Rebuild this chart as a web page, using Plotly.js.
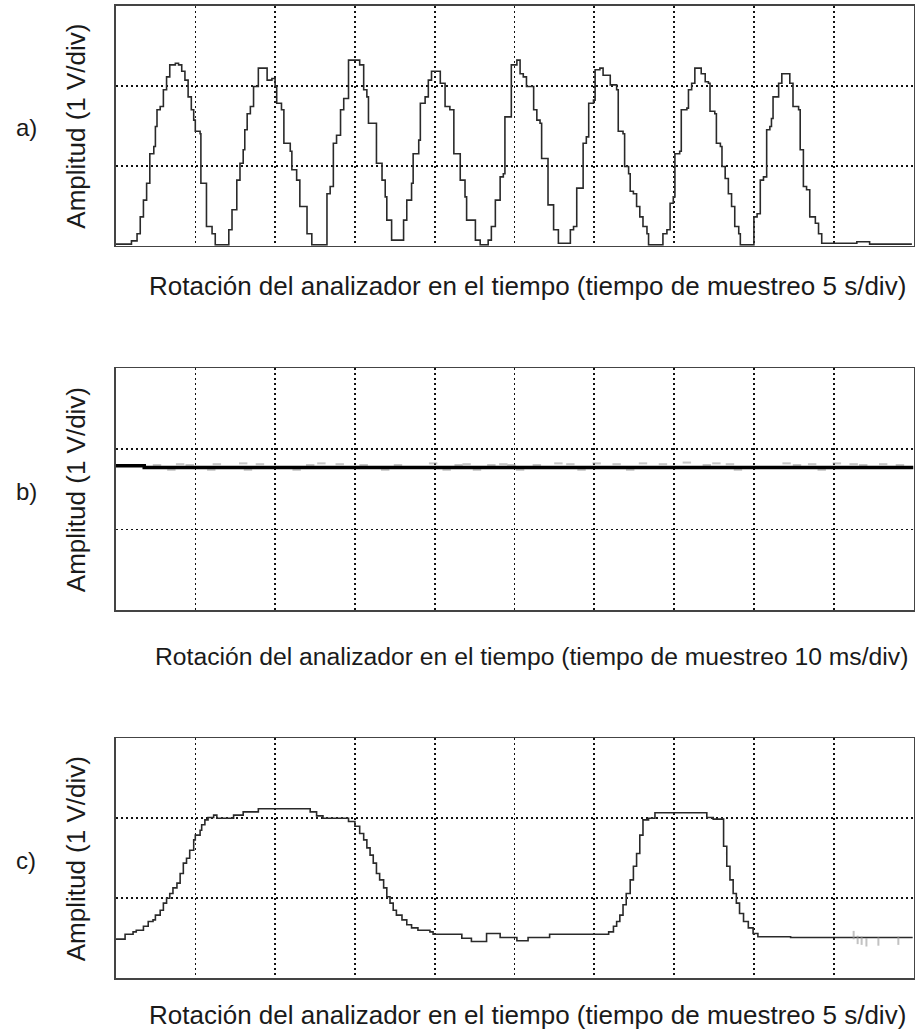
<!DOCTYPE html>
<html>
<head>
<meta charset="utf-8">
<script src="https://cdn.plot.ly/plotly-3.0.1.min.js"></script>
<style>html,body{margin:0;padding:0;background:#fff;}#chart{width:916px;height:1031px;}</style>
</head>
<body>
<div id="chart"></div>
<script>
// Panel a: staircase waveform (x in divisions of 5 s, y in divisions of 1 V)
const aX = [0.00,0.20,0.27,0.31,0.35,0.39,0.43,0.48,0.50,0.52,0.56,0.60,0.64,0.68,0.75,0.79,0.83,0.87,0.91,0.95,0.98,1.00,1.06,1.07,1.12,1.14,1.21,1.25,1.35,1.42,1.46,1.52,1.56,1.60,1.62,1.65,1.69,1.73,1.79,1.85,1.90,1.96,2.00,2.02,2.08,2.11,2.19,2.21,2.27,2.31,2.35,2.40,2.46,2.56,2.65,2.69,2.73,2.77,2.82,2.86,2.92,3.02,3.06,3.11,3.15,3.17,3.25,3.27,3.34,3.38,3.40,3.46,3.55,3.61,3.65,3.71,3.73,3.80,3.82,3.88,3.92,3.96,4.05,4.07,4.11,4.13,4.19,4.24,4.30,4.32,4.38,4.40,4.46,4.51,4.57,4.67,4.71,4.76,4.82,4.86,4.88,4.92,4.96,5.03,5.07,5.11,5.15,5.21,5.24,5.28,5.32,5.34,5.40,5.42,5.47,5.49,5.55,5.67,5.70,5.74,5.78,5.84,5.86,5.90,5.93,5.99,6.01,6.07,6.11,6.15,6.20,6.28,6.30,6.36,6.38,6.43,6.45,6.49,6.53,6.57,6.61,6.66,6.68,6.82,6.86,6.91,6.95,6.99,7.01,7.07,7.09,7.16,7.18,7.22,7.26,7.32,7.34,7.39,7.43,7.45,7.51,7.53,7.58,7.60,7.64,7.68,7.72,7.76,7.81,7.83,7.95,8.00,8.04,8.08,8.12,8.16,8.20,8.22,8.24,8.29,8.31,8.35,8.39,8.45,8.49,8.56,8.58,8.62,8.66,8.70,8.77,8.81,8.85,9.25,9.29,9.41,9.45,9.98];
const aY = [0.02,0.06,0.15,0.36,0.57,0.78,1.15,1.24,1.49,1.70,1.74,1.95,2.11,2.26,2.28,2.26,2.18,2.07,1.86,1.70,1.57,1.43,1.40,0.78,0.78,0.24,0.15,0.01,0.01,0.20,0.45,0.82,1.03,1.20,1.45,1.65,1.74,1.99,2.22,2.22,2.07,2.09,1.99,1.78,1.70,1.28,1.18,0.95,0.82,0.49,0.49,0.15,0.01,0.01,0.65,0.74,1.28,1.38,1.70,1.84,2.32,2.32,2.26,1.95,1.86,1.53,1.53,1.03,0.82,0.61,0.32,0.07,0.07,0.32,0.57,0.78,1.15,1.32,1.78,1.86,2.07,2.18,2.18,2.03,2.03,1.74,1.70,1.15,1.15,0.82,0.61,0.32,0.32,0.07,0.01,0.07,0.24,0.57,0.86,0.90,1.61,1.61,2.26,2.32,2.15,2.11,1.99,1.99,1.70,1.57,1.53,1.09,1.09,0.51,0.51,0.20,0.03,0.03,0.20,0.24,0.72,0.72,1.28,1.36,1.78,1.82,2.20,2.22,2.13,2.13,2.01,1.95,1.43,1.40,0.99,0.90,0.68,0.65,0.49,0.36,0.24,0.15,0.01,0.01,0.15,0.20,0.53,0.61,1.15,1.18,1.70,1.72,1.95,2.03,2.22,2.22,2.15,2.05,2.03,1.68,1.65,1.28,1.24,0.99,0.84,0.65,0.49,0.24,0.15,0.01,0.01,0.36,0.40,0.82,0.86,1.45,1.49,1.59,1.86,1.86,2.03,2.15,2.15,2.03,1.74,1.70,1.20,0.74,0.70,0.36,0.28,0.15,0.03,0.03,0.05,0.05,0.02,0.02];

// Panel b: nearly constant signal (x in divisions of 10 ms)
const bX = [0.00,0.35,0.36,10.0];
const bY = [1.79,1.79,1.77,1.77];
// Panel b: faint noise specks around the trace
const bNoiseX = [0.52,0.70,0.81,0.93,1.20,1.27,1.60,1.66,1.81,2.27,2.44,2.58,2.81,3.11,3.38,3.54,3.98,4.15,4.30,4.40,4.53,4.71,4.86,4.96,5.07,5.28,5.55,5.70,5.84,6.03,6.28,6.45,6.61,6.86,7.16,7.41,7.53,7.70,7.80,8.41,8.54,8.73,8.85,9.04,9.25,9.37,9.62,9.83];
const bNoiseY = [1.80,1.74,1.81,1.80,1.74,1.81,1.82,1.74,1.81,1.74,1.80,1.82,1.81,1.80,1.74,1.80,1.82,1.74,1.80,1.81,1.74,1.80,1.81,1.80,1.74,1.80,1.82,1.81,1.74,1.82,1.81,1.74,1.82,1.81,1.83,1.80,1.82,1.81,1.74,1.82,1.80,1.81,1.74,1.82,1.81,1.80,1.81,1.80];

// Panel c: staircase waveform (x in divisions of 5 s)
const cX = [0.00,0.12,0.22,0.26,0.35,0.41,0.47,0.50,0.56,0.60,0.64,0.68,0.72,0.77,0.81,0.85,0.89,0.93,0.98,1.00,1.06,1.08,1.12,1.16,1.23,1.27,1.39,1.48,1.60,1.79,2.40,2.44,2.52,2.60,2.85,2.92,3.00,3.06,3.11,3.15,3.19,3.23,3.27,3.31,3.36,3.40,3.44,3.48,3.52,3.59,3.65,3.71,3.79,3.94,3.98,4.32,4.34,4.44,4.46,4.61,4.65,4.80,4.82,5.03,5.17,5.44,6.16,6.18,6.24,6.28,6.32,6.36,6.40,6.45,6.49,6.53,6.57,6.61,6.68,6.76,7.37,7.41,7.49,7.60,7.62,7.66,7.70,7.74,7.78,7.82,7.87,7.93,7.99,8.05,8.46,9.99];
const cY = [0.49,0.55,0.58,0.60,0.65,0.71,0.73,0.79,0.85,0.94,1.00,1.06,1.13,1.19,1.31,1.44,1.50,1.60,1.73,1.79,1.85,1.92,1.98,2.01,2.04,2.00,2.00,2.04,2.08,2.12,2.12,2.08,2.03,2.00,2.00,1.96,1.90,1.81,1.73,1.63,1.54,1.44,1.31,1.23,1.13,1.02,0.94,0.85,0.79,0.73,0.67,0.63,0.60,0.58,0.55,0.55,0.50,0.50,0.46,0.46,0.56,0.56,0.51,0.47,0.51,0.55,0.55,0.58,0.65,0.71,0.79,0.92,1.06,1.23,1.40,1.56,1.79,1.98,2.00,2.07,2.07,2.01,1.99,1.99,1.65,1.40,1.23,1.06,0.94,0.81,0.71,0.63,0.56,0.52,0.51,0.51];
// Panel c: faint noise specks near the end
const cNoiseX = [9.25,9.30,9.35,9.41,9.56,9.81];
const cNoiseY = [0.54,0.48,0.47,0.45,0.46,0.47];

const xTitles = [
  "Rotación del analizador en el tiempo (tiempo de muestreo 5 s/div)",
  "Rotación del analizador en el tiempo (tiempo de muestreo 10 ms/div)",
  "Rotación del analizador en el tiempo (tiempo de muestreo 5 s/div)"
];
const yTitle = "Amplitud (1 V/div)";
const panelLabels = ["a)", "b)", "c)"];

const W = 916, H = 1031;
const FONT = "Liberation Sans, Arial, sans-serif";
// pixel boxes: [left, right, top, bottom]
const boxes = [[115.5, 913.5, 5.7, 245.7], [115.5, 913.5, 368.3, 610], [115.5, 913.5, 738.3, 978.3]];
const xTitleY = [286, 656, 1015];
const xTitleX = [527, 531, 527];
const xTitleSize = [26, 24.7, 26];

function ax(box, horizontal, anchor) {
  const d = horizontal ? [box[0] / W, box[1] / W] : [1 - box[3] / H, 1 - box[2] / H];
  return {
    domain: d, anchor: anchor,
    range: horizontal ? [0, 10] : [0, 3],
    dtick: 1, tick0: 0,
    showticklabels: false, ticks: '',
    showgrid: true, gridcolor: '#111', gridwidth: 1.6, griddash: '2px,3px',
    zeroline: false,
    showline: true, mirror: true, linecolor: '#444', linewidth: 1.6,
    fixedrange: true
  };
}

const lineStyle = {color: '#2a2a2a', width: 1.6, shape: 'hv'};
const traces = [
  {x: aX, y: aY, xaxis: 'x', yaxis: 'y', mode: 'lines', line: lineStyle, hoverinfo: 'skip'},
  {x: bNoiseX, y: bNoiseY, xaxis: 'x2', yaxis: 'y2', mode: 'markers',
    marker: {symbol: 'line-ew', size: 6, line: {color: '#9a9a9a', width: 2}}, opacity: 0.55, hoverinfo: 'skip'},
  {x: bX, y: bY, xaxis: 'x2', yaxis: 'y2', mode: 'lines', line: {color: '#000', width: 3.5, shape: 'hv'}, hoverinfo: 'skip'},
  {x: cX, y: cY, xaxis: 'x3', yaxis: 'y3', mode: 'lines', line: lineStyle, hoverinfo: 'skip'},
  {x: cNoiseX, y: cNoiseY, xaxis: 'x3', yaxis: 'y3', mode: 'markers',
    marker: {symbol: 'line-ns', size: 6, line: {color: '#9a9a9a', width: 2}}, opacity: 0.6, hoverinfo: 'skip'}
];

const annotations = [];
for (let i = 0; i < 3; i++) {
  const b = boxes[i];
  const cy = (b[2] + b[3]) / 2;
  annotations.push({xref: 'paper', yref: 'paper', x: xTitleX[i] / W, y: 1 - xTitleY[i] / H,
    xanchor: 'center', yanchor: 'middle', showarrow: false, text: xTitles[i],
    font: {family: FONT, size: xTitleSize[i], color: '#1a1a1a'}});
  annotations.push({xref: 'paper', yref: 'paper', x: 76 / W, y: 1 - (cy + 1) / H,
    xanchor: 'center', yanchor: 'middle', showarrow: false, text: yTitle, textangle: -90,
    font: {family: FONT, size: 26, color: '#1a1a1a'}});
  annotations.push({xref: 'paper', yref: 'paper', x: 26 / W, y: 1 - (cy + 2) / H,
    xanchor: 'center', yanchor: 'middle', showarrow: false, text: panelLabels[i],
    font: {family: FONT, size: 24, color: '#1a1a1a'}});
}

const layout = {
  width: W, height: H,
  margin: {l: 0, r: 0, t: 0, b: 0},
  paper_bgcolor: '#fff', plot_bgcolor: '#fff',
  showlegend: false,
  xaxis: ax(boxes[0], true, 'y'), yaxis: ax(boxes[0], false, 'x'),
  xaxis2: ax(boxes[1], true, 'y2'), yaxis2: ax(boxes[1], false, 'x2'),
  xaxis3: ax(boxes[2], true, 'y3'), yaxis3: ax(boxes[2], false, 'x3'),
  annotations: annotations
};

Plotly.newPlot('chart', traces, layout, {staticPlot: true, displayModeBar: false});
</script>
</body>
</html>
